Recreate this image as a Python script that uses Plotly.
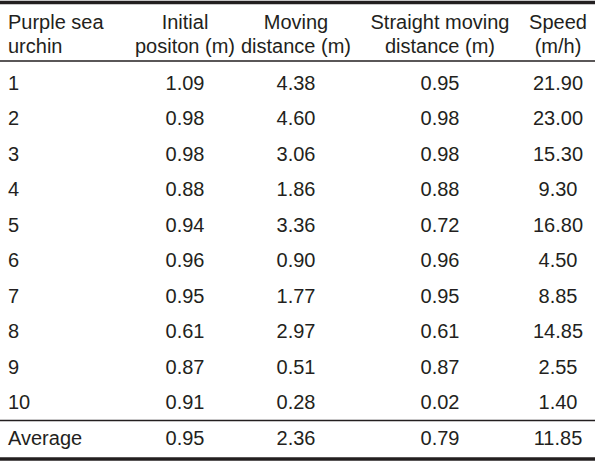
import plotly.graph_objects as go

# ---- data ----
NBSP = "\u00a0"
header_line1 = ["Purple sea", "Initial", "Moving", "Straight moving", "Speed"]
header_line2 = ["urchin", "positon (m)", "distance (m)", "distance (m)", "(m/h)"]
urchin = ["1", "2", "3", "4", "5", "6", "7", "8", "9", "10", "Average"]
initial_position = [1.09, 0.98, 0.98, 0.88, 0.94, 0.96, 0.95, 0.61, 0.87, 0.91, 0.95]
moving_distance = [4.38, 4.60, 3.06, 1.86, 3.36, 0.90, 1.77, 2.97, 0.51, 0.28, 2.36]
straight_distance = [0.95, 0.98, 0.98, 0.88, 0.72, 0.96, 0.95, 0.61, 0.87, 0.02, 0.79]
speed = [21.90, 23.00, 15.30, 9.30, 16.80, 4.50, 8.85, 14.85, 2.55, 1.40, 11.85]

# ---- layout constants (pixels) ----
W, H = 600, 465
TABLE_W = 590
RULE_W = 595
HEAD_TOP = 6
HEAD_ROW_H = 24
BODY_TOP = 66.5
ROW_H = 35.5
TEXT = "#231F20"
FONT = "Liberation Sans, Arial, sans-serif"
FS = 20
COLW = [132, 106, 116, 172, 64]
ALIGN = ["left", "center", "center", "center", "center"]

n_rows = len(urchin)
head_bottom = HEAD_TOP + 2 * HEAD_ROW_H
body_bottom = BODY_TOP + ROW_H * n_rows

def ydom(top_px, bottom_px):
    return [1 - bottom_px / H, 1 - top_px / H]

def keep(s):
    # keep each header line on one line (no automatic wrapping)
    return s.replace(" ", NBSP)

font = dict(family=FONT, size=FS, color=TEXT)
noline = dict(color="rgba(0,0,0,0)", width=0)
clear = "rgba(0,0,0,0)"

header_cols = [[keep(a), keep(b)] for a, b in zip(header_line1, header_line2)]

fig = go.Figure()
# header table: two header rows, each line centred on its own
fig.add_trace(go.Table(
    domain=dict(x=[0, TABLE_W / W], y=ydom(HEAD_TOP, head_bottom + 14)),
    columnwidth=COLW,
    header=dict(values=header_cols, align=ALIGN, font=font,
                fill_color=clear, line=noline, height=HEAD_ROW_H),
    cells=dict(values=[[] for _ in header_cols]),
))
# body table
fig.add_trace(go.Table(
    domain=dict(x=[0, TABLE_W / W], y=ydom(BODY_TOP, body_bottom + 1)),
    columnwidth=COLW,
    header=dict(values=["" for _ in header_cols], height=0, line=noline,
                fill_color=clear, font=dict(size=1)),
    cells=dict(
        values=[urchin, initial_position, moving_distance, straight_distance, speed],
        format=[None, ".2f", ".2f", ".2f", ".2f"],
        align=ALIGN, font=font,
        fill_color=clear, line=noline, height=ROW_H,
    ),
))

def hline(y_px, width):
    fig.add_shape(type="line", xref="paper", yref="paper",
                  x0=0, x1=RULE_W / W, y0=1 - y_px / H, y1=1 - y_px / H,
                  line=dict(color=TEXT, width=width))

hline(2.5, 3.5)          # top rule
hline(61, 1.3)           # below header
hline(420.5, 1.3)        # above average row
hline(459, 3.5)          # bottom rule

fig.update_layout(width=W, height=H, margin=dict(l=0, r=0, t=0, b=0),
                  paper_bgcolor="white", plot_bgcolor="white")
fig.write_html("out.html", config={"displayModeBar": False},
               post_script="document.body.style.margin='0px';")
